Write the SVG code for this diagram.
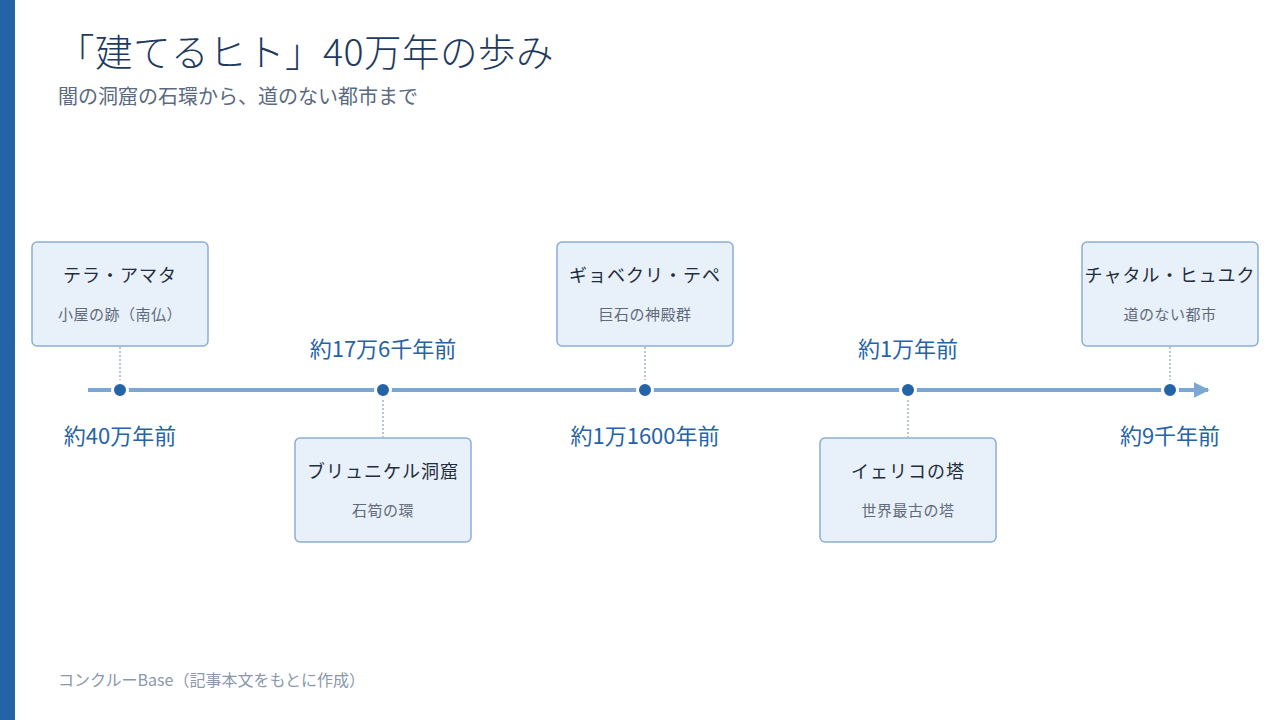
<svg xmlns="http://www.w3.org/2000/svg" width="1280" height="720" viewBox="0 0 1280 720">
<defs>
<style>
.jp{font-family:"Noto Sans CJK JP","Noto Sans",sans-serif;}
.box{fill:#e8f0f9;stroke:#8aaed6;stroke-width:1.5;}
.nt{font-size:18px;fill:#1f2d3d;text-anchor:middle;letter-spacing:1px;}
.ns{font-size:15px;fill:#5f6b7a;text-anchor:middle;letter-spacing:0.5px;}
.date{font-size:22px;fill:#2563a8;text-anchor:middle;}
.tick{stroke:#a3b3c9;stroke-width:1.5;stroke-dasharray:2 2;fill:none;}
.dot{fill:#2563a8;stroke:#ffffff;stroke-width:3;}
</style>
<marker id="arr" viewBox="0 0 10 10" refX="9" refY="5" markerWidth="4" markerHeight="4" orient="auto" markerUnits="strokeWidth">
<path d="M0,0 L10,5 L0,10 z" fill="#7ba7d4"/>
</marker>
</defs>
<rect x="0" y="0" width="1280" height="720" fill="#ffffff"/>
<rect x="0" y="0" width="15" height="720" fill="#2563a8"/>
<text class="jp" x="57" y="66" font-size="37.5" font-weight="300" letter-spacing="0.5" fill="#1e3a5f">「建てるヒト」40万年の歩み</text>
<text class="jp" x="58" y="104" font-size="20" fill="#5a6a80">闇の洞窟の石環から、道のない都市まで</text>

<g id="connectors">
<line x1="88" y1="390" x2="1208" y2="390" stroke="#7ba7d4" stroke-width="4" marker-end="url(#arr)"/>
<line class="tick" x1="120" y1="347" x2="120" y2="380"/>
<line class="tick" x1="383" y1="400" x2="383" y2="437"/>
<line class="tick" x1="645" y1="347" x2="645" y2="380"/>
<line class="tick" x1="908" y1="400" x2="908" y2="437"/>
<line class="tick" x1="1170" y1="347" x2="1170" y2="380"/>
</g>

<g id="dots">
<circle class="dot" cx="120" cy="390" r="7.5"/>
<circle class="dot" cx="383" cy="390" r="7.5"/>
<circle class="dot" cx="645" cy="390" r="7.5"/>
<circle class="dot" cx="908" cy="390" r="7.5"/>
<circle class="dot" cx="1170" cy="390" r="7.5"/>
</g>

<g id="node-terra-amata">
<rect class="box" x="32" y="242" width="176" height="104" rx="5"/>
<text class="jp nt" x="120" y="282">テラ・アマタ</text>
<text class="jp ns" x="120" y="320">小屋の跡（南仏）</text>
<text class="jp date" x="120" y="444">約40万年前</text>
</g>

<g id="node-bruniquel">
<rect class="box" x="295" y="438" width="176" height="104" rx="5"/>
<text class="jp nt" x="383" y="478">ブリュニケル洞窟</text>
<text class="jp ns" x="383" y="516">石筍の環</text>
<text class="jp date" x="383" y="357">約17万6千年前</text>
</g>

<g id="node-gobekli">
<rect class="box" x="557" y="242" width="176" height="104" rx="5"/>
<text class="jp nt" x="645" y="282">ギョベクリ・テペ</text>
<text class="jp ns" x="645" y="320">巨石の神殿群</text>
<text class="jp date" x="645" y="444">約1万1600年前</text>
</g>

<g id="node-jericho">
<rect class="box" x="820" y="438" width="176" height="104" rx="5"/>
<text class="jp nt" x="908" y="478">イェリコの塔</text>
<text class="jp ns" x="908" y="516">世界最古の塔</text>
<text class="jp date" x="908" y="357">約1万年前</text>
</g>

<g id="node-catalhoyuk">
<rect class="box" x="1082" y="242" width="176" height="104" rx="5"/>
<text class="jp nt" x="1170" y="282">チャタル・ヒュユク</text>
<text class="jp ns" x="1170" y="320">道のない都市</text>
<text class="jp date" x="1170" y="444">約9千年前</text>
</g>

<text class="jp" x="58" y="686" font-size="16" fill="#8a98ad">コンクルーBase（記事本文をもとに作成）</text>
</svg>
